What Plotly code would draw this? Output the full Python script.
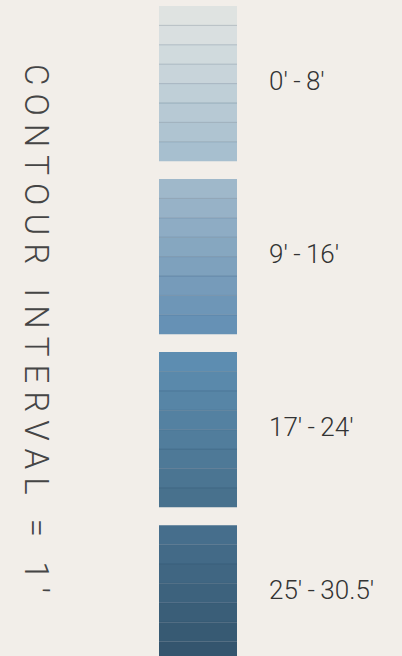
import plotly.graph_objects as go

BG_COLOR = "#f2eee9"
TEXT_COLOR = "#333333"
W, H = 402, 656

# contour groups and how many 1' bands each holds
group_labels = ["0'\u2009-\u20098'", "9'\u2009-\u200916'", "17'\u2009-\u200924'", "25'\u2009-\u200930.5'"]
bands_per_group = [8, 8, 8, 7]
band_colors = [
    ["#dfe3e1", "#d9dfe0", "#d0dadd", "#c8d4da", "#bfcfd7", "#b7c9d4", "#afc4d1", "#a7bfcf"],
    ["#9fb8ca", "#97b2c7", "#8eacc4", "#86a7c0", "#7ea1bd", "#769bba", "#6e96b7", "#6691b5"],
    ["#5d8db1", "#5a89ab", "#5785a6", "#5481a1", "#517d9c", "#4e7997", "#4b7592", "#48718d"],
    ["#466e8c", "#436a87", "#406682", "#3d627d", "#3a5e78", "#375a73", "#34556e"],
]
title = "CONTOUR INTERVAL = 1'"

# layout in band units
BAND_PX = 19.4
GROUP_PITCH = 8.92
TOP_PX = 6
BAR_CENTER_PX, BAR_W_PX = 198, 78

bases, colors = [], []
for g, (n, cols) in enumerate(zip(bands_per_group, band_colors)):
    for b in range(n):
        bases.append(g * GROUP_PITCH + b)
        colors.append(cols[b])

# thin divider lines between bands
lx, ly = [], []
for g, n in enumerate(bands_per_group):
    for b in range(1, n):
        lx += [-0.5, 0.5, None]
        ly += [g * GROUP_PITCH + b] * 2 + [None]

fig = go.Figure()
fig.add_trace(go.Bar(
    x=[0] * len(bases), y=[1] * len(bases), base=bases, width=1,
    marker=dict(color=colors, line=dict(width=0)),
    hoverinfo="skip",
))
fig.add_trace(go.Scatter(
    x=lx, y=ly, mode="lines",
    line=dict(color="rgba(30,65,95,0.22)", width=1),
    hoverinfo="skip",
))

for g, (label, n) in enumerate(zip(group_labels, bands_per_group)):
    fig.add_annotation(
        x=(267 - BAR_CENTER_PX) / BAR_W_PX, y=g * GROUP_PITCH + n / 2 - 0.15,
        text=label, showarrow=False, xanchor="left", yanchor="middle",
        font=dict(family="Roboto", size=26, color=TEXT_COLOR, weight=300),
    )

fig.add_annotation(
    x=(37 - BAR_CENTER_PX) / BAR_W_PX, y=(328 - TOP_PX) / BAND_PX,
    text="\u00a0".join(title).replace("\u00a0 \u00a0", "\u00a0\u00a0\u00a0"),
    textangle=90, showarrow=False, xanchor="center", yanchor="middle",
    font=dict(family="Roboto", size=33, color="#454545", weight=300),
)

fig.update_layout(
    width=W,
    height=H,
    paper_bgcolor=BG_COLOR,
    plot_bgcolor=BG_COLOR,
    showlegend=False,
    margin=dict(t=0, b=0, l=0, r=0),
    xaxis=dict(
        range=[-BAR_CENTER_PX / BAR_W_PX, (W - BAR_CENTER_PX) / BAR_W_PX],
        visible=False, fixedrange=True,
    ),
    yaxis=dict(
        range=[(H - TOP_PX) / BAND_PX, -TOP_PX / BAND_PX],
        visible=False, fixedrange=True,
    ),
)

fig.write_html(
    "out.html",
    config={"displayModeBar": False},
    post_script="document.body.style.margin='0';document.body.style.background='" + BG_COLOR + "';",
)
